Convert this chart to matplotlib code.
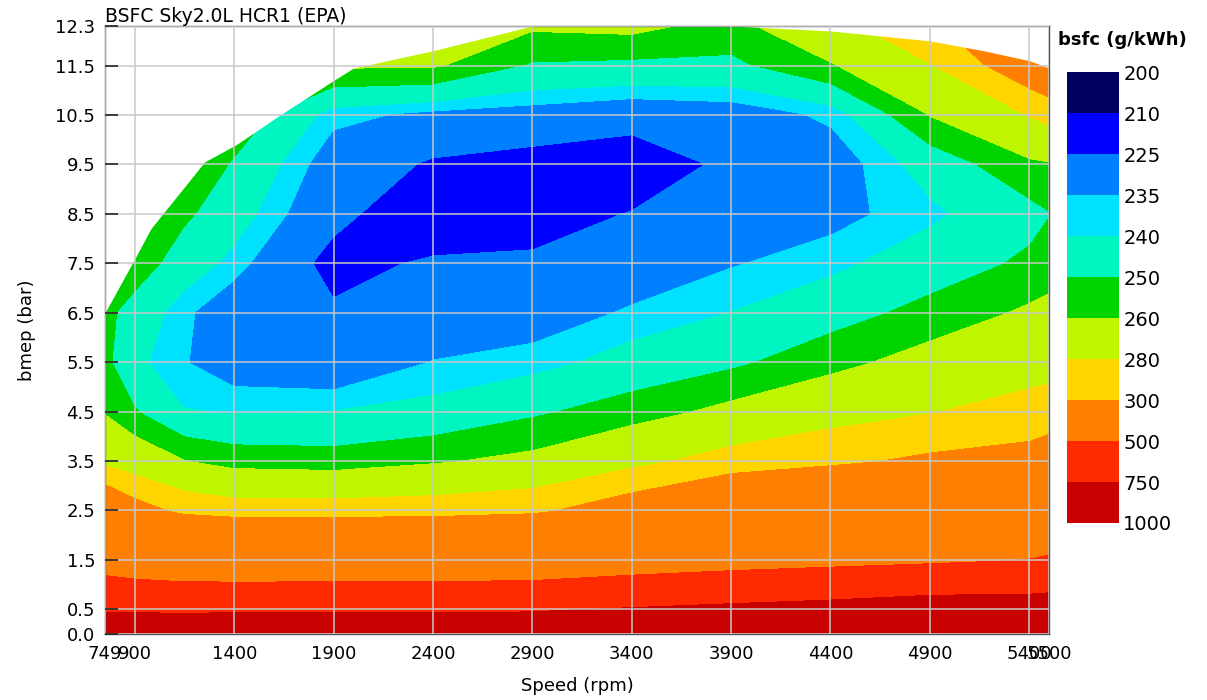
import numpy as np
import matplotlib
matplotlib.use('Agg')
import matplotlib.pyplot as plt
from matplotlib.colors import ListedColormap

# map grid: engine speed columns (rpm) and bmep rows (bar)
speed = [749, 900, 1150, 1400, 1900, 2400, 2900, 3400, 3900, 4400, 4900, 5400, 5500]
bmep = [0.0, 0.5, 1.5, 2.5, 3.5, 4.5, 5.5, 6.5, 7.5, 8.5, 9.5, 10.5, 11.5, 12.3]

# bsfc (g/kWh), one row per bmep value, one column per speed
bsfc = [
    [1000, 1000, 1000, 1000, 1000, 1000, 1000, 1000, 1000, 1000, 1000, 1000, 1000],
    [733, 731, 724, 731, 731, 731, 737, 782, 833, 889, 984, 980, 990],
    [441, 422, 407, 404, 405, 407, 412, 436, 455, 470, 485, 505, 520],
    [334, 312, 295, 290, 289.7, 291, 296, 317, 345, 360, 374.5, 388.8, 393],
    [277, 270.7, 260.8, 255.9, 254.6, 259, 263.6, 275.7, 288.5, 296, 305, 310, 316],
    [259.5, 251.2, 240.5, 239.6, 240.4, 242.5, 248.6, 255, 263.9, 272.8, 279.5, 287, 288.6],
    [253, 242, 235.5, 231, 229, 235.5, 237.5, 243.5, 248.2, 256.5, 265.6, 273, 274.2],
    [253, 246, 236.5, 230, 226.5, 228, 231.4, 236, 240.3, 246, 253.4, 262.2, 263.6],
    [255, 256, 245, 238, 222, 226.5, 226.7, 230.6, 234.6, 238.2, 244.9, 251.9, 255],
    [258, 262, 252, 244, 228, 218, 221, 225.6, 229.5, 232.8, 238.5, 247, 249.8],
    [262, 268, 260, 249, 231, 224, 221.5, 219, 227.5, 231, 244, 257.9, 259.4],
    [268, 275, 268, 258, 237, 233.5, 232, 229.6, 231, 236.5, 260.9, 281.4, 287],
    [275, 280, 275, 266, 262, 262, 249.2, 248, 248, 259.2, 279.4, 320, 330],
    [280, 285, 280, 272, 270, 280, 262.2, 264, 256, 275, 296, 340, 350],
]

# full load (max bmep) line, area above it is outside the map
wot_speed = [749, 900, 980, 1250, 1410, 1630, 1900, 2000, 2400, 2900, 3900, 4400, 4900, 5170, 5400, 5500]
wot_bmep = [6.5, 7.6, 8.2, 9.55, 9.9, 10.5, 11.2, 11.45, 11.8, 12.3, 12.3, 12.2, 12.0, 11.8, 11.6, 11.45]

# colour levels, top of legend to bottom
cb_levels = [200, 210, 225, 235, 240, 250, 260, 280, 300, 500, 750, 1000]
band_colors = ['#000060', '#0000ff', '#0080ff', '#00e0ff', '#00f5c0', '#00d400',
               '#bff500', '#ffd500', '#ff8000', '#ff2a00', '#c80000']

x_ticks = [749, 900, 1400, 1900, 2400, 2900, 3400, 3900, 4400, 4900, 5400, 5500]
y_ticks = [0.0, 0.5, 1.5, 2.5, 3.5, 4.5, 5.5, 6.5, 7.5, 8.5, 9.5, 10.5, 11.5, 12.3]

fig = plt.figure(figsize=(12.07, 7.0), dpi=100)
ax = fig.add_axes([105 / 1207, 66 / 700, 944 / 1207, 608 / 700])

# contour in 1/bsfc so the bands between grid rows interpolate evenly
eff = 1000.0 / np.array(bsfc, dtype=float)
eff_levels = 1000.0 / np.array(cb_levels[::-1], dtype=float)
ax.contourf(speed, bmep, eff, levels=eff_levels, colors=band_colors[::-1], zorder=1)

ax.fill_between(wot_speed, wot_bmep, 13, color='white', zorder=1.5, lw=0)

ax.set_xlim(749, 5500)
ax.set_ylim(0, 12.3)
ax.set_xticks(x_ticks)
ax.set_xticklabels([str(v) for v in x_ticks])
ax.set_yticks(y_ticks)
ax.set_yticklabels(['%.1f' % v for v in y_ticks])
ax.set_axisbelow(False)
ax.grid(True, color='#c8c8c8', lw=1.1)
ax.tick_params(axis='y', direction='in', length=9, width=1.2, color='#222222', pad=7, labelsize=13)
ax.tick_params(axis='x', length=0, pad=8, labelsize=13)
for s in ax.spines.values():
    s.set_color('#555555')
    s.set_linewidth(1.0)

ax.set_xlabel('Speed (rpm)', fontsize=13, labelpad=10)
ax.set_ylabel('bmep (bar)', fontsize=13, labelpad=14)
ax.set_title('BSFC Sky2.0L HCR1 (EPA)', loc='left', fontsize=13.5, pad=3)

# legend bar
cax = fig.add_axes([1067 / 1207, 177 / 700, 52 / 1207, 451 / 700])
n = len(band_colors)
cax.pcolormesh([0, 1], np.arange(n + 1), np.arange(n).reshape(-1, 1),
               cmap=ListedColormap(band_colors), vmin=-0.5, vmax=n - 0.5)
cax.set_ylim(n, 0)
cax.set_xlim(0, 1)
cax.set_xticks([])
cax.set_yticks(range(len(cb_levels)))
cax.set_yticklabels([str(v) for v in cb_levels])
cax.yaxis.tick_right()
cax.tick_params(axis='y', length=0, pad=3, labelsize=14)
for s in cax.spines.values():
    s.set_visible(False)

fig.text(1058 / 1207, 1 - 40 / 700, 'bsfc (g/kWh)', fontsize=13, fontweight='bold',
         ha='left', va='center')

fig.savefig('out.png', dpi=100)
